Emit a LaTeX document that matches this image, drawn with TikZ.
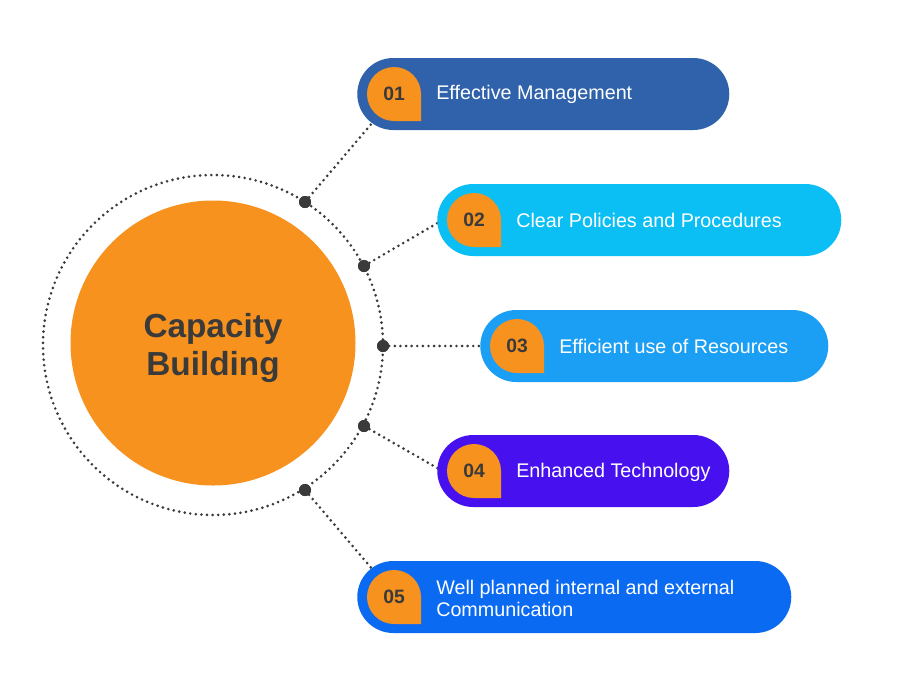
\documentclass[tikz,border=0pt]{standalone}
\usepackage{fontspec}
\setmainfont{Liberation Sans}
\definecolor{corange}{HTML}{F7921E}
\definecolor{cdark}{HTML}{3A3A3A}
\definecolor{cpa}{HTML}{2F62AB}
\definecolor{cpb}{HTML}{0BBFF5}
\definecolor{cpc}{HTML}{1A9FF5}
\definecolor{cpd}{HTML}{4611EE}
\definecolor{cpe}{HTML}{0A6BF2}
\begin{document}
\begin{tikzpicture}[x=0.75pt,y=-0.75pt,
  dotline/.style={draw=cdark, line width=2.2pt, line cap=round, dash pattern=on 0pt off 4.2pt},
  jdot/.style={circle, fill=cdark, inner sep=0pt, minimum size=9pt},
  pill/.style={rectangle, rounded corners=27pt, inner sep=0pt, minimum height=54pt, anchor=west},
  itemtext/.style={anchor=west, text=white, inner sep=0pt, align=left, font=\fontsize{14.8}{16.5}\selectfont},
  numtext/.style={text=cdark, inner sep=0pt, font=\fontsize{14.5}{16}\selectfont\bfseries}
]
\useasboundingbox (0,0) rectangle (909,682);
\fill[white] (0,0) rectangle (909,682);

% centre
\coordinate (c) at (213,345);
\draw[dotline] (c) circle[radius=127.5pt];
\node[circle, fill=corange, minimum size=213.75pt, inner sep=0pt] (cb) at (213,343) {};
\node[text=cdark, align=center, inner sep=0pt,
  font=\fontsize{25}{28.5}\selectfont\bfseries] (cbt) at (213,348) {Capacity\\Building};

% connector ends
\coordinate (e1) at (373,122);
\coordinate (e2) at (446,218);
\coordinate (e3) at (486,346);
\coordinate (e4) at (446,473);
\coordinate (e5) at (373,570);

\node[jdot] (j1) at (305,202) {};
\node[jdot] (j2) at (364,266) {};
\node[jdot] (j3) at (383,346) {};
\node[jdot] (j4) at (364,426) {};
\node[jdot] (j5) at (305,490) {};

\draw[dotline] (j1) -- (e1);
\draw[dotline] (j2) -- (e2);
\draw[dotline] (j3) -- (e3);
\draw[dotline] (j4) -- (e4);
\draw[dotline] (j5) -- (e5);

\node[jdot] at (j1) {};
\node[jdot] at (j2) {};
\node[jdot] at (j3) {};
\node[jdot] at (j4) {};
\node[jdot] at (j5) {};

% pills
\node[pill, fill=cpa, minimum width=372*0.75pt] (p1) at (357,94) {};
\node[pill, fill=cpb, minimum width=404*0.75pt] (p2) at (437,220) {};
\node[pill, fill=cpc, minimum width=348*0.75pt] (p3) at (480,346) {};
\node[pill, fill=cpd, minimum width=292*0.75pt] (p4) at (437,471) {};
\node[pill, fill=cpe, minimum width=434*0.75pt] (p5) at (357,597) {};

% badges
\foreach \cx/\cy/\n in {394/94/1, 474/220/2, 517/346/3, 474/471/4, 394/597/5}{
  \fill[corange] (\cx+27,\cy+27) -- (\cx+27,\cy) arc[start angle=0, end angle=270, radius=20.25pt] -- cycle;
  \node[numtext] (b\n) at (\cx,\cy) {0\n};
}

% texts
\node[itemtext] (t1) at (436,94.5) {Effective Management};
\node[itemtext] (t2) at (516,220.5) {Clear Policies and Procedures};
\node[itemtext] (t3) at (559,346.5) {Efficient use of Resources};
\node[itemtext] (t4) at (516,472.5) {Enhanced Technology};
\node[itemtext] (t5) at (436,598) {Well planned internal and external\\Communication};
\end{tikzpicture}
\end{document}
